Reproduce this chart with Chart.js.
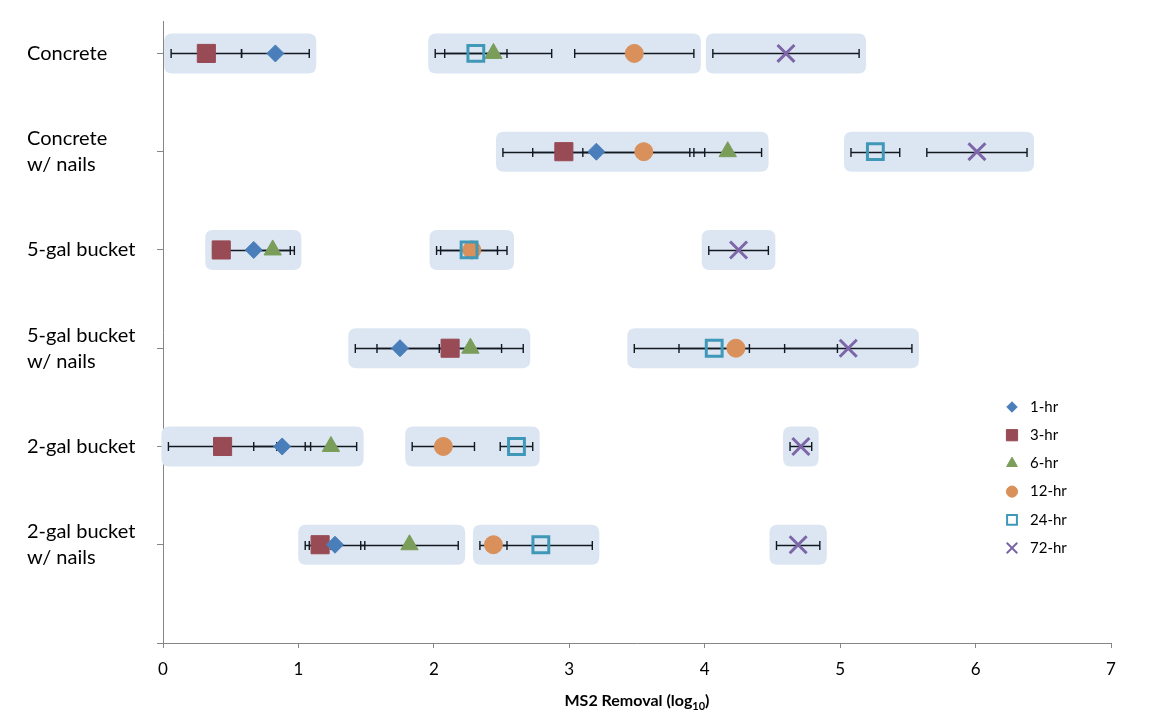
<!DOCTYPE html>
<html>
<head>
<meta charset="utf-8">
<script src="https://cdn.jsdelivr.net/npm/chart.js@4.4.0/dist/chart.umd.min.js"></script>
<style>
  html, body { margin: 0; padding: 0; background: #fff; }
  #wrap { width: 1150px; height: 723px; }
</style>
</head>
<body>
<div id="wrap"><canvas id="removalChart" width="1150" height="723"></canvas></div>
<script>
// Sample surfaces, top to bottom
const surfaces = ['Concrete', 'Concrete\nw/ nails', '5-gal bucket', '5-gal bucket\nw/ nails', '2-gal bucket', '2-gal bucket\nw/ nails'];
const contactTimes = ['1-hr', '3-hr', '6-hr', '12-hr', '24-hr', '72-hr'];
const xTicks = [0, 1, 2, 3, 4, 5, 6, 7];

// Mean MS2 removal (log10) per surface
const removal1h  = [0.83, 3.20, 0.67, 1.75, 0.88, 1.27];
const removal3h  = [0.32, 2.96, 0.43, 2.12, 0.44, 1.16];
const removal6h  = [2.44, 4.17, 0.81, 2.27, 1.24, 1.82];
const removal12h = [3.48, 3.55, 2.28, 4.23, 2.07, 2.44];
const removal24h = [2.31, 5.26, 2.26, 4.07, 2.61, 2.79];
const removal72h = [4.60, 6.01, 4.25, 5.06, 4.71, 4.69];

// +/- error per surface
const err1h  = [0.25, 0.69, 0.30, 0.33, 0.21, 0.22];
const err3h  = [0.26, 0.23, 0.06, 0.54, 0.40, 0.08];
const err6h  = [0.43, 0.25, 0.13, 0.23, 0.19, 0.36];
const err12h = [0.44, 0.45, 0.26, 0.75, 0.23, 0.10];
const err24h = [0.23, 0.18, 0.21, 0.26, 0.12, 0.38];
const err72h = [0.54, 0.37, 0.22, 0.47, 0.08, 0.16];

// Which contact times share a shaded band on each surface (indexes into contactTimes)
const bandGroups = [
    [[0, 1], [2, 3, 4], [5]],
    [[0, 1, 2, 3], [4, 5]],
    [[0, 1, 2], [3, 4], [5]],
    [[0, 1, 2], [3, 4, 5]],
    [[0, 1, 2], [3, 4], [5]],
    [[0, 1, 2], [3, 4], [5]]
];

const FONT = "Lato, 'Liberation Sans', sans-serif";
const values = [removal1h, removal3h, removal6h, removal12h, removal24h, removal72h];
const errors = [err1h, err3h, err6h, err12h, err24h, err72h];

// surface 0 sits at the top of the axis
function rowPos(i) {
    return surfaces.length - i;
}

// Marker looks for each contact time
const markerStyles = [
    { pointStyle: 'rectRot', radius: 8.5, fill: '#4a7ebb', stroke: '#4a7ebb', width: 1, order: 4 },
    { pointStyle: 'rect', radius: 12.8, fill: '#984b55', stroke: '#984b55', width: 1, order: 5 },
    { pointStyle: 'triangle', radius: 10, fill: '#7a9e5a', stroke: '#7a9e5a', width: 1, order: 3 },
    { pointStyle: 'circle', radius: 9, fill: '#d9905a', stroke: '#d9905a', width: 1, order: 2 },
    { pointStyle: 'rect', radius: 11.2, fill: 'rgba(0,0,0,0)', stroke: '#3f98b7', width: 3, order: 1 },
    { pointStyle: 'crossRot', radius: 12, fill: '#7d66a8', stroke: '#7d66a8', width: 3, order: 0 }
];

const datasets = contactTimes.map((name, s) => ({
    label: name,
    data: surfaces.map((_, i) => ({ x: values[s][i], y: rowPos(i) })),
    pointStyle: markerStyles[s].pointStyle,
    pointRadius: markerStyles[s].radius,
    pointHoverRadius: markerStyles[s].radius,
    backgroundColor: markerStyles[s].fill,
    borderColor: markerStyles[s].stroke,
    pointBorderWidth: markerStyles[s].width,
    borderWidth: markerStyles[s].width,
    showLine: false,
    order: markerStyles[s].order
}));

function roundRect(ctx, x, y, w, h, r) {
    ctx.beginPath();
    ctx.moveTo(x + r, y);
    ctx.lineTo(x + w - r, y);
    ctx.quadraticCurveTo(x + w, y, x + w, y + r);
    ctx.lineTo(x + w, y + h - r);
    ctx.quadraticCurveTo(x + w, y + h, x + w - r, y + h);
    ctx.lineTo(x + r, y + h);
    ctx.quadraticCurveTo(x, y + h, x, y + h - r);
    ctx.lineTo(x, y + r);
    ctx.quadraticCurveTo(x, y, x + r, y);
    ctx.closePath();
}

// Shaded bands and horizontal error bars, under the markers
const bandsAndErrors = {
    id: 'bandsAndErrors',
    beforeDatasetsDraw(chart) {
        const { ctx, scales: { x, y } } = chart;
        ctx.save();
        ctx.fillStyle = '#dce6f2';
        bandGroups.forEach((groups, row) => {
            const yc = y.getPixelForValue(rowPos(row));
            groups.forEach(g => {
                let lo = Infinity, hi = -Infinity;
                g.forEach(s => {
                    const v = values[s][row], e = errors[s][row];
                    lo = Math.min(lo, x.getPixelForValue(v - e), x.getPixelForValue(v) - 9);
                    hi = Math.max(hi, x.getPixelForValue(v + e), x.getPixelForValue(v) + 9);
                });
                roundRect(ctx, lo - 7, yc - 20, hi - lo + 14, 40, 8);
                ctx.fill();
            });
        });

        ctx.strokeStyle = '#111820';
        ctx.lineWidth = 1.4;
        values.forEach((vals, s) => {
            vals.forEach((v, row) => {
                const yc = Math.round(y.getPixelForValue(rowPos(row))) + 0.5;
                const x0 = x.getPixelForValue(v - errors[s][row]);
                const x1 = x.getPixelForValue(v + errors[s][row]);
                ctx.beginPath();
                ctx.moveTo(x0, yc);
                ctx.lineTo(x1, yc);
                ctx.moveTo(x0, yc - 4.5);
                ctx.lineTo(x0, yc + 4.5);
                ctx.moveTo(x1, yc - 4.5);
                ctx.lineTo(x1, yc + 4.5);
                ctx.stroke();
            });
        });
        ctx.restore();
    }
};

// Legend inside the plot on the right, plus the axis title with subscript
const sideLegend = {
    id: 'sideLegend',
    afterDraw(chart) {
        const { ctx, chartArea } = chart;
        ctx.save();
        const lx = chartArea.right - 99;
        chart.data.datasets.forEach((ds, i) => {
            const ly = 407 + i * 28.2;
            const st = markerStyles[i];
            ctx.fillStyle = st.fill;
            ctx.strokeStyle = st.stroke;
            ctx.lineWidth = st.width === 3 ? 2 : 1;
            Chart.helpers.drawPoint(ctx, { pointStyle: st.pointStyle, radius: st.radius * 0.62, rotation: 0, borderWidth: ctx.lineWidth }, lx, ly);
            ctx.fillStyle = '#000';
            ctx.font = '15px ' + FONT;
            ctx.textAlign = 'left';
            ctx.textBaseline = 'middle';
            ctx.fillText(ds.label, lx + 18, ly);
        });

        // x axis title: MS2 Removal (log10)
        const main = 'MS2 Removal (log';
        const sub = '10';
        const tail = ')';
        ctx.fillStyle = '#000';
        ctx.textBaseline = 'alphabetic';
        ctx.font = 'bold 16px ' + FONT;
        const wMain = ctx.measureText(main).width;
        const wTail = ctx.measureText(tail).width;
        ctx.font = 'bold 11px ' + FONT;
        const wSub = ctx.measureText(sub).width;
        const cx = (chartArea.left + chartArea.right) / 2;
        let tx = cx - (wMain + wSub + wTail) / 2;
        const ty = chartArea.bottom + 63;
        ctx.textAlign = 'left';
        ctx.font = 'bold 16px ' + FONT;
        ctx.fillText(main, tx, ty);
        tx += wMain;
        ctx.font = 'bold 11px ' + FONT;
        ctx.fillText(sub, tx, ty + 4);
        tx += wSub;
        ctx.font = 'bold 16px ' + FONT;
        ctx.fillText(tail, tx, ty);
        ctx.restore();
    }
};

new Chart(document.getElementById('removalChart'), {
    type: 'scatter',
    data: { datasets },
    options: {
        responsive: false,
        animation: false,
        layout: { padding: { left: 27, right: 39, top: 21, bottom: 0 } },
        plugins: {
            legend: { display: false },
            tooltip: { enabled: false }
        },
        scales: {
            x: {
                type: 'linear',
                min: xTicks[0],
                max: xTicks[xTicks.length - 1],
                afterBuildTicks: s => { s.ticks = xTicks.map(v => ({ value: v })); },
                afterFit: s => { s.height = 80; },
                border: { color: '#868686', width: 1 },
                grid: { drawOnChartArea: false, color: '#868686', tickLength: 5 },
                ticks: { color: '#000', font: { family: FONT, size: 17 }, padding: 11 }
            },
            y: {
                type: 'linear',
                min: 0,
                max: 6.33,
                afterBuildTicks: s => { s.ticks = surfaces.map((_, i) => ({ value: i })).concat([{ value: surfaces.length }]); },
                afterFit: s => { s.width = 136; },
                border: { color: '#868686', width: 1 },
                grid: { drawOnChartArea: false, color: '#868686', tickLength: 6 },
                ticks: {
                    color: '#000',
                    crossAlign: 'far',
                    font: { family: FONT, size: 20, lineHeight: 1.3 },
                    callback: v => {
                        const i = surfaces.length - v;
                        if (v === 0 || !surfaces[i]) return '';
                        return surfaces[i].split('\n');
                    }
                }
            }
        }
    },
    plugins: [bandsAndErrors, sideLegend]
});
</script>
</body>
</html>
